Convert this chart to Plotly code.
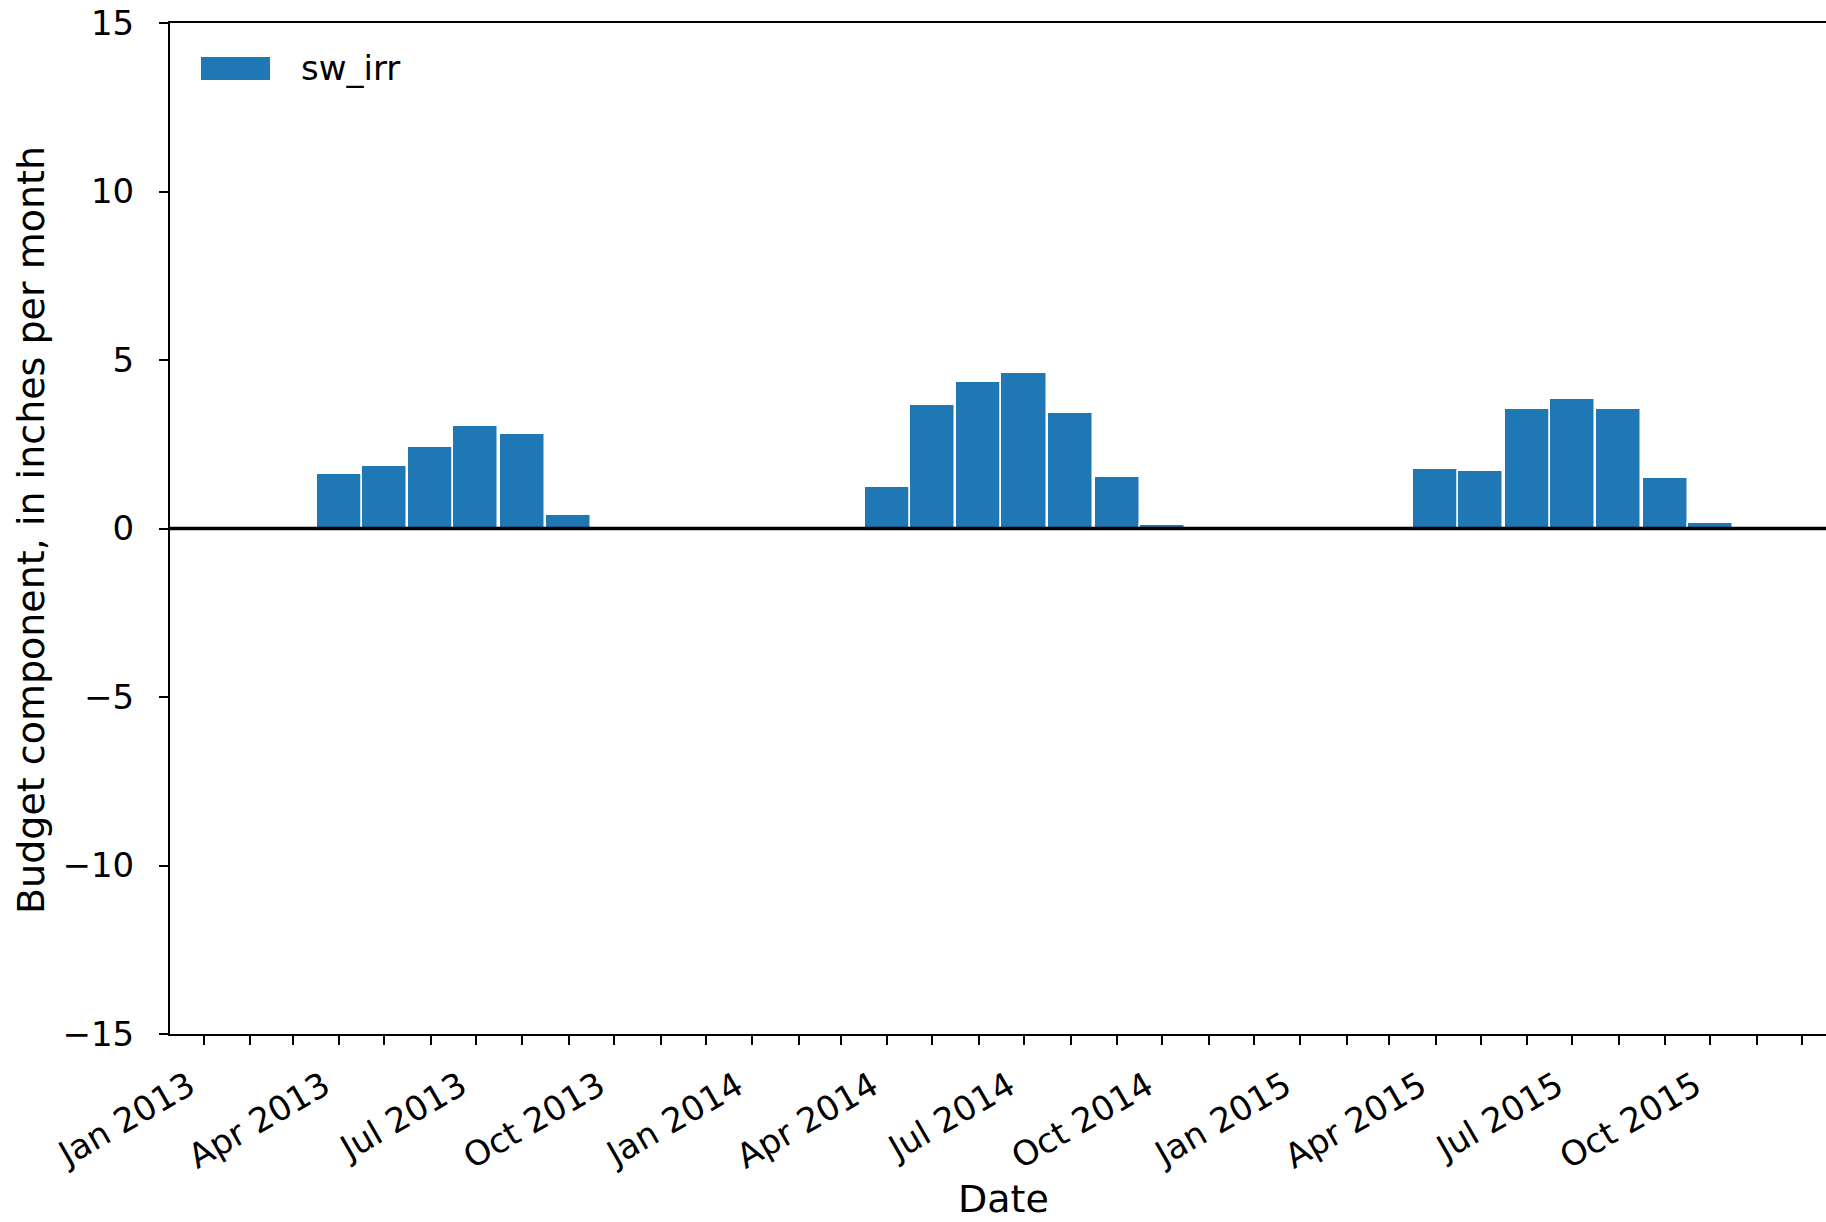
import pandas as pd
import plotly.graph_objects as go

# Monthly surface-water irrigation, inches per month
months = pd.date_range("2013-01-01", "2015-12-01", freq="MS")
sw_irr_2013 = [0, 0, 0, 1.63, 1.86, 2.41, 3.03, 2.79, 0.41, 0, 0, 0]
sw_irr_2014 = [0, 0, 0, 1.24, 3.66, 4.34, 4.60, 3.43, 1.52, 0.10, 0, 0]
sw_irr_2015 = [0, 0, 0, 1.77, 1.72, 3.54, 3.85, 3.54, 1.50, 0.17, 0, 0]
sw_irr = sw_irr_2013 + sw_irr_2014 + sw_irr_2015

y_ticks = [-15, -10, -5, 0, 5, 10, 15]
quarter_labels = ["Jan", "", "", "Apr", "", "", "Jul", "", "", "Oct", "", ""]
x_ticktext = [
    f"{quarter_labels[d.month - 1]} {d.year}" if quarter_labels[d.month - 1] else ""
    for d in months
]

BLUE = "#1f77b4"
FONT = "DejaVu Sans"
W, H = 1826, 1222
ML, MR, MT, MB = 170, 0, 23, 188
PW, PH = W - ML - MR, H - MT - MB

fig = go.Figure()
fig.add_trace(
    go.Bar(
        x=months,
        y=sw_irr,
        width=30 * 24 * 3600 * 1000,
        marker=dict(color=BLUE, line=dict(color="white", width=1.5)),
        name="sw_irr",
        showlegend=False,
    )
)

axis_common = dict(
    showgrid=False,
    showline=True,
    linecolor="black",
    linewidth=2,
    ticks="outside",
    ticklen=9,
    tickwidth=2,
    tickcolor="black",
    tickfont=dict(family=FONT, size=34, color="black"),
    zeroline=False,
)

fig.update_layout(
    width=W,
    height=H,
    margin=dict(l=ML, r=MR, t=MT, b=MB),
    paper_bgcolor="white",
    plot_bgcolor="white",
    font=dict(family=FONT, color="black"),
    bargap=0,
    xaxis=dict(
        axis_common,
        type="date",
        range=["2012-12-09 10:00", "2015-12-17"],
        tickmode="array",
        tickvals=months,
        ticktext=x_ticktext,
        tickangle=-30,
        ticklabelstandoff=8,
        ticklabelshift=-15,
        mirror=True,
    ),
    yaxis=dict(
        axis_common,
        range=[-15, 15],
        tickmode="array",
        tickvals=y_ticks,
        ticklabelstandoff=18,
    ),
)

# horizontal reference line at zero
fig.add_shape(
    type="line", xref="paper", yref="y", x0=0, x1=1, y0=0, y1=0,
    line=dict(color="black", width=3.5), layer="above",
)

# legend swatch and label
fig.add_shape(
    type="rect", xref="paper", yref="paper",
    x0=31 / PW, x1=100 / PW, y0=(PH - 57 + MT) / PH, y1=(PH - 80 + MT) / PH,
    fillcolor=BLUE, line=dict(width=0),
)
fig.add_annotation(
    xref="paper", yref="paper", x=129 / PW, y=(PH - 68.5 + MT) / PH,
    text="sw_irr", showarrow=False, xanchor="left", yanchor="middle",
    font=dict(family=FONT, size=34, color="black"),
)

# axis titles
fig.add_annotation(
    xref="paper", yref="paper", x=(1003 - ML) / PW, y=-(1199 - (H - MB)) / PH,
    text="Date", showarrow=False, xanchor="center", yanchor="middle",
    font=dict(family=FONT, size=38, color="black"),
)
fig.add_annotation(
    xref="paper", yref="paper", x=-(ML - 31) / PW, y=(H - MB - 530) / PH,
    text="Budget component, in inches per month", showarrow=False,
    textangle=-90, xanchor="center", yanchor="middle",
    font=dict(family=FONT, size=38, color="black"),
)

fig.write_html("out.html")
